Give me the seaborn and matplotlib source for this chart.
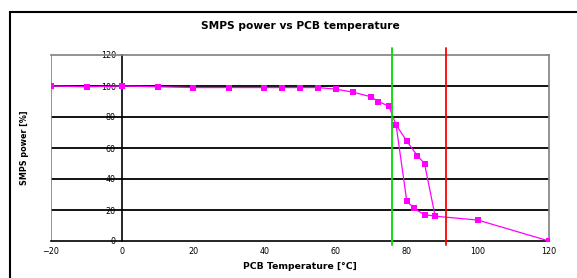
import matplotlib
matplotlib.use("Agg")
import matplotlib.pyplot as plt
import seaborn as sns
import pandas as pd
from matplotlib.patches import Rectangle

# ---- data ----
temp_main = [-20, -10, 0, 10, 20, 30, 40, 45, 50, 55, 60, 65, 70, 72, 75, 77, 80, 82, 85, 88, 100, 120]
power_main = [100, 99.5, 100, 99.5, 99, 99, 99, 99, 99, 99, 98, 96, 93, 90, 87, 75, 26, 21, 17, 16, 13.5, 0]
temp_branch = [77, 80, 83, 85, 88]
power_branch = [75, 64.5, 55, 50, 16]
limit_temps = [76, 91]
limit_colors = ["#00DD00", "#FF0000"]
x_ticks = [-20, 0, 20, 40, 60, 80, 100, 120]
y_ticks = [0, 20, 40, 60, 80, 100, 120]

df = pd.concat([
    pd.DataFrame({"temp": temp_main, "power": power_main, "branch": "main"}),
    pd.DataFrame({"temp": temp_branch, "power": power_branch, "branch": "branch"}),
], ignore_index=True)

sns.set_theme(style="white")
plt.rcParams["font.family"] = ["DejaVu Sans"]
plt.rcParams["text.color"] = "black"
plt.rcParams["axes.labelcolor"] = "black"
plt.rcParams["xtick.color"] = "black"
plt.rcParams["ytick.color"] = "black"

fig = plt.figure(figsize=(5.77, 2.78), dpi=100)
ax = fig.add_axes([51 / 577, 1 - 241 / 278, 498 / 577, 186 / 278])

# outer chart border
fig.patches.append(Rectangle((10 / 577, -0.1), 1.2, 1 - 12 / 278 + 0.1,
                             transform=fig.transFigure, fill=False,
                             edgecolor="black", linewidth=1.5))

# gridlines
for yv in y_ticks[1:-1]:
    ax.axhline(yv, color="black", linewidth=1.3, zorder=1)
ax.axvline(-20, color="#808080", linewidth=1.2, zorder=1)

sns.lineplot(data=df, x="temp", y="power", hue="branch", sort=False,
             palette={"main": "#FF00FF", "branch": "#FF00FF"},
             marker="s", markersize=4, markeredgewidth=0, linewidth=0.9,
             legend=False, ax=ax, zorder=3, estimator=None)

for t, c in zip(limit_temps, limit_colors):
    ax.axvline(t, ymin=-0.02, ymax=1.04, color=c, linewidth=1.3,
               clip_on=False, zorder=4)

ax.set_xlim(-20, 120)
ax.set_ylim(0, 120)
ax.set_xticks(x_ticks)
ax.set_yticks(y_ticks)

for s in ["top", "right"]:
    ax.spines[s].set_color("#808080")
    ax.spines[s].set_linewidth(1.2)
ax.spines["left"].set_position(("data", 0))
ax.spines["left"].set_color("black")
ax.spines["left"].set_linewidth(1.2)
ax.spines["bottom"].set_color("black")
ax.spines["bottom"].set_linewidth(1.2)

ax.tick_params(axis="both", which="major", labelsize=5.8, direction="out",
               length=2.5, width=1, color="black", pad=2)

ax.set_title("SMPS power vs PCB temperature", fontsize=7.7, fontweight="bold", pad=19)
ax.set_xlabel("PCB Temperature [°C]", fontsize=6.7, fontweight="bold", labelpad=4)
ax.set_ylabel("SMPS power [%]", fontsize=5.8, fontweight="bold")
ax.yaxis.set_label_coords(-0.045, 0.5)

fig.savefig("out.png", dpi=100)
